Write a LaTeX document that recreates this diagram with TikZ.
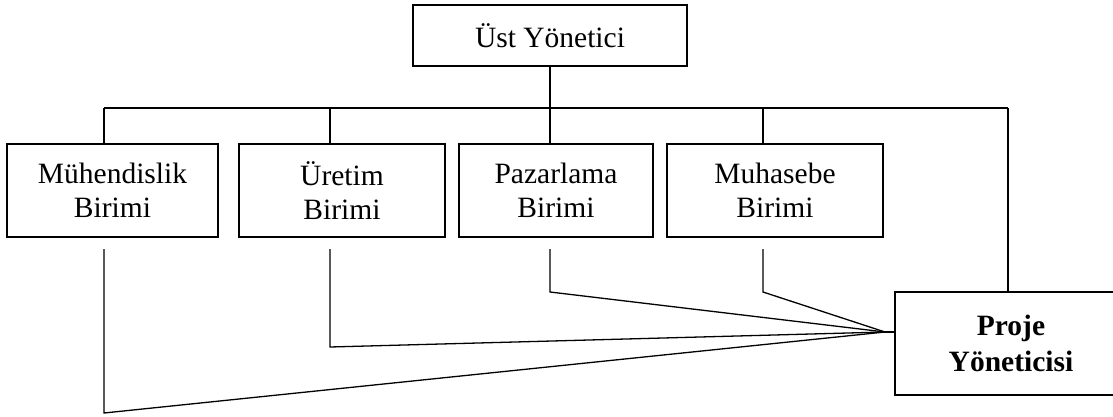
\documentclass[tikz,border=0pt]{standalone}
\usepackage{fontspec}
\setmainfont{Liberation Serif}
\begin{document}
\begin{tikzpicture}[x=1pt,y=-1pt,
  unit/.style={draw,line width=1.8pt,inner sep=0pt,align=center,
    font=\fontsize{29.5}{34}\selectfont},
  link/.style={line width=1.3pt}]
\useasboundingbox (0,0) rectangle (1113,417);
\begin{scope}
\clip (0,0) rectangle (1113,417);
% boxes
\node[unit,minimum width=274pt,minimum height=61pt] (top) at (550,35.5) {Üst Yönetici};
\node[unit,minimum width=211pt,minimum height=93pt] (muh) at (112.5,190.5) {Mühendislik\\Birimi};
\node[unit,minimum width=206pt,minimum height=93pt] (ure) at (342,190.5) {Üretim\\Birimi};
\node[unit,minimum width=194pt,minimum height=93pt] (paz) at (556,190.5) {Pazarlama\\Birimi};
\node[unit,minimum width=216pt,minimum height=93pt] (mhs) at (775,190.5) {Muhasebe\\Birimi};
\node[unit,minimum width=232pt,minimum height=103pt,font=\fontsize{29.5}{36}\selectfont\bfseries] (pro) at (1011,343.5) {Proje\\Yöneticisi};

% upper bus
\coordinate (busL) at (104,108);
\coordinate (busR) at (1008,108);
\draw[link] (top.south) -- (top.south |- busL);
\draw[link] (busL) -- (busR);
\draw[link] (busL) -- (busL |- muh.north);
\coordinate (bU) at (330,108);
\coordinate (bP) at (550,108);
\coordinate (bM) at (763,108);
\draw[link] (bU) -- (bU |- ure.north);
\draw[link] (bP) -- (bP |- paz.north);
\draw[link] (bM) -- (bM |- mhs.north);
\draw[link] (busR) -- (busR |- pro.north);

% lower links to the project manager
\coordinate (conv) at (885,332);
\draw[link] (conv) -- (conv -| pro.west);
\draw[link] (104,249) coordinate (m1) -- (104,413) coordinate (m2) -- (conv);
\draw[link] (330,249) coordinate (u1) -- (330,347) coordinate (u2) -- (conv);
\draw[link] (550,249) coordinate (p1) -- (550,292) coordinate (p2) -- (conv);
\draw[link] (763,249) coordinate (h1) -- (763,292) coordinate (h2) -- (conv);
\end{scope}
\end{tikzpicture}
\end{document}
